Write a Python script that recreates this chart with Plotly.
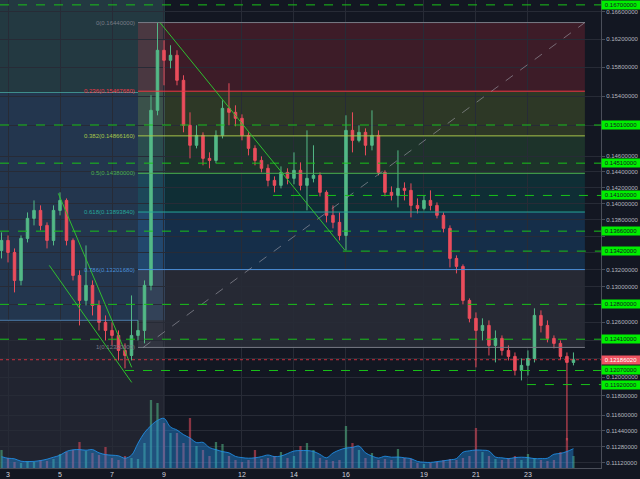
import math
from datetime import datetime, timedelta
import pandas as pd
import plotly.graph_objects as go

# ---------------- data ----------------
START = "2018-04-02 18:00"   # first 6h candle
opens = [0.13428,0.13548,0.13404,0.13075,0.13572,0.13816,0.13914,0.13730,0.13548,0.13914,
         0.14038,0.13548,0.13133,0.12845,0.13018,0.12788,0.12597,0.12507,0.12452,0.12287,
         0.12232,0.12452,0.12507,0.13018,0.15207,0.16040,0.15898,0.15969,0.15618,0.15006,
         0.14742,0.14873,0.14572,0.14546,0.14873,0.15234,0.15180,0.15100,0.14873,0.14702,
         0.14546,0.14444,0.14290,0.14227,0.14392,0.14316,0.14418,0.14227,0.14316,0.14354,
         0.14139,0.13853,0.13767,0.13608,0.14939,0.14807,0.14913,0.14742,0.14873,0.14392,
         0.14139,0.14101,0.14189,0.14164,0.13976,0.13939,0.14038,0.13976,0.13853,0.13694,
         0.13333,0.13239,0.12845,0.12642,0.12507,0.12563,0.12342,0.12419,0.12287,0.12222,
         0.12071,0.12125,0.12200,0.12675,0.12563,0.12419,0.12364,0.12222,0.12157]
highs = [0.13645,0.13608,0.13452,0.13608,0.13889,0.14038,0.13976,0.13767,0.13976,0.14139,
         0.14063,0.13572,0.13192,0.13488,0.13075,0.12845,0.12675,0.12597,0.12507,0.12364,
         0.12902,0.12619,0.13075,0.15412,0.16444,0.16183,0.16112,0.16040,0.15688,0.15180,
         0.15006,0.14913,0.14650,0.14939,0.15343,0.15577,0.15275,0.15153,0.14913,0.14742,
         0.14598,0.14495,0.14341,0.14469,0.14444,0.14650,0.14520,0.14939,0.14742,0.14392,
         0.14164,0.13976,0.13889,0.15140,0.15180,0.15006,0.14966,0.15207,0.14939,0.14418,
         0.14214,0.14676,0.14265,0.14252,0.14063,0.14101,0.14164,0.14013,0.13889,0.13730,
         0.13369,0.13263,0.12868,0.12709,0.12642,0.12619,0.12507,0.12452,0.12342,0.12265,
         0.12200,0.12287,0.12755,0.12732,0.12619,0.12452,0.12397,0.12265,0.12265]
lows = [0.13333,0.13286,0.12937,0.13018,0.13524,0.13730,0.13669,0.13452,0.13488,0.13853,
        0.13488,0.13075,0.12563,0.12788,0.12675,0.12507,0.12397,0.12342,0.12178,0.12093,
        0.12178,0.12397,0.12364,0.12960,0.15140,0.15549,0.15785,0.15549,0.14913,0.14572,
        0.14702,0.14482,0.14444,0.14508,0.14833,0.15006,0.14993,0.14807,0.14611,0.14482,
        0.14392,0.14214,0.14139,0.14189,0.14240,0.14240,0.14164,0.13914,0.14265,0.14088,
        0.13767,0.13694,0.13548,0.13428,0.14650,0.14781,0.14611,0.14676,0.14354,0.14088,
        0.14038,0.13951,0.14038,0.13828,0.13877,0.13914,0.13914,0.13816,0.13645,0.13227,
        0.13157,0.12800,0.12597,0.12104,0.12397,0.12232,0.12157,0.12232,0.12178,0.12017,
        0.11964,0.12017,0.12157,0.12485,0.12375,0.12309,0.12189,0.11343,0.12125]
closes = [0.13548,0.13404,0.13075,0.13572,0.13816,0.13914,0.13730,0.13548,0.13914,0.14038,
          0.13548,0.13133,0.12845,0.13018,0.12788,0.12597,0.12507,0.12452,0.12287,0.12232,
          0.12452,0.12507,0.13018,0.15207,0.16040,0.15898,0.15969,0.15618,0.15006,0.14742,
          0.14873,0.14572,0.14546,0.14873,0.15234,0.15180,0.15100,0.14873,0.14702,0.14546,
          0.14444,0.14290,0.14227,0.14392,0.14316,0.14418,0.14227,0.14316,0.14354,0.14139,
          0.13853,0.13767,0.13608,0.14939,0.14807,0.14913,0.14742,0.14873,0.14392,0.14139,
          0.14101,0.14189,0.14164,0.13976,0.13939,0.14038,0.13976,0.13853,0.13694,0.13333,
          0.13239,0.12845,0.12642,0.12507,0.12563,0.12342,0.12419,0.12287,0.12222,0.12071,
          0.12125,0.12200,0.12675,0.12563,0.12419,0.12364,0.12222,0.12157,0.12186]
volumes = [180,100,60,50,70,60,80,70,90,140,
           160,180,260,170,150,130,210,100,80,120,
           100,90,250,680,650,450,350,350,250,500,
           220,180,120,260,240,120,80,60,80,180,
           90,100,120,160,100,120,220,250,180,100,
           80,70,80,420,250,180,100,150,80,90,
           80,190,100,90,50,40,50,60,80,90,
           80,100,120,400,160,120,90,80,100,120,
           80,140,100,80,70,80,160,300,120]

x_tick_days = [3, 5, 7, 9, 12, 14, 16, 19, 21, 23]
price_ticks = [0.166, 0.162, 0.158, 0.154, 0.150, 0.146, 0.144, 0.142, 0.140, 0.138,
               0.136, 0.134, 0.132, 0.130, 0.128, 0.126, 0.124, 0.122, 0.120, 0.118,
               0.116, 0.1144, 0.1128, 0.1112]
# tick labels fully covered by the level badges on the price scale
covered_ticks = [0.150, 0.136, 0.134, 0.128, 0.124, 0.122]

level_prices = [0.167, 0.1501, 0.1451, 0.141, 0.1366, 0.1342, 0.128, 0.1241, 0.1207, 0.1192]
last_price = 0.12186020

fib_high = 0.1644
fib_low = 0.1232
fib_ratios = [0, 0.236, 0.382, 0.5, 0.618, 0.786, 1]

# ---------------- helpers / styling ----------------
BASE = datetime(2018, 4, 1)
def day(d):
    return BASE + timedelta(days=d - 1)

times = pd.date_range(START, periods=len(closes), freq="6h")

BG = "#131722"
GRID = "#272b36"
AXC = "#4a4e59"
TXT = "#b2b5be"
FONT = "Liberation Sans, Arial, sans-serif"
UP = "#53b987"
DOWN = "#eb4d5c"
LVL = "#19c219"

fib_colors = ["#787b86", "#f23645", "#a8c64a", "#4caf50", "#26a69a", "#4a90d9", "#787b86"]
fib_zone_rgb = [None, (242, 54, 69), (160, 200, 60), (76, 175, 80), (0, 150, 136),
                (33, 150, 243), (120, 123, 134)]
fib_prices = [fib_high - r * (fib_high - fib_low) for r in fib_ratios]

X0, X1 = 2.692, 25.81
FIB_X0, FIB_X1 = 8.0, 25.19
LEFT_X1 = 9.04
Y_TOP = 10 ** -0.7754
Y_BOT = 10 ** -0.9559

# level line start days (None = full width)
level_start = [None, None, None, 13.19, None, 15.88, None, None, 7.5, 22.96]

shapes = []
def rect(xa, xb, ya, yb, color):
    shapes.append(dict(type="rect", xref="x", yref="y", x0=day(xa), x1=day(xb),
                       y0=ya, y1=yb, fillcolor=color, line=dict(width=0), layer="below"))
def line(xa, ya, xb, yb, color, width=1, dash="solid"):
    shapes.append(dict(type="line", xref="x", yref="y", x0=day(xa), x1=day(xb),
                       y0=ya, y1=yb, line=dict(color=color, width=width, dash=dash)))

# left coloured regions + grey date-range overlay
rect(X0, LEFT_X1, 0.1545, Y_TOP, "rgba(38,166,154,0.17)")
rect(X0, LEFT_X1, 0.1262, 0.1545, "rgba(33,150,243,0.17)")
rect(X0, LEFT_X1, Y_BOT, Y_TOP, "rgba(120,123,134,0.14)")
line(X0, 0.1545, FIB_X0, 0.1545, "rgba(77,182,172,0.7)")
line(X0, 0.1262, FIB_X0, 0.1262, "rgba(91,155,213,0.7)")

# fib zones
for k in range(1, len(fib_prices)):
    r, g, b = fib_zone_rgb[k]
    rect(FIB_X0, FIB_X1, fib_prices[k], fib_prices[k - 1], f"rgba({r},{g},{b},0.19)")
for k, p in enumerate(fib_prices):
    line(FIB_X0, p, FIB_X1, p, fib_colors[k], 1)
# fib trend (dashed diagonal)
line(8.2, fib_low, FIB_X1, fib_high, "rgba(160,160,170,0.6)", 1, "dash")

# green support/resistance levels
for p, s in zip(level_prices, level_start):
    line(s if s is not None else X0, p, X1, p, LVL, 1, "dash")

# trend lines
line(8.846, fib_high, 15.96, 0.1343, "#2fbf2f", 1)
line(4.935, 0.14126, 7.758, 0.12104, "#2fbf2f", 1)
line(4.588, 0.13251, 7.758, 0.11943, "#2fbf2f", 1)

# current price line
line(X0, last_price, X1, last_price, "rgba(242,54,69,0.8)", 1, "dot")

# ---------------- annotations ----------------
annotations = []
for k, (r, p) in enumerate(zip(fib_ratios, fib_prices)):
    rs = f"{r:g}"
    annotations.append(dict(xref="x", yref="y", x=day(FIB_X0), y=math.log10(p),
                            text=f"{rs}({p:.8f})", showarrow=False, xanchor="right",
                            yanchor="middle", xshift=-1,
                            font=dict(family=FONT, size=6, color=fib_colors[k])))
for p in level_prices:
    annotations.append(dict(xref="paper", yref="y", x=1, y=math.log10(p),
                            text=f"{p:.8f}", showarrow=False, xanchor="left",
                            yanchor="middle", width=38, height=8, bgcolor="#00ee00",
                            borderpad=0, font=dict(family=FONT, size=6, color="#131722")))
annotations.append(dict(xref="paper", yref="y", x=1, y=math.log10(last_price),
                        text=f"{last_price:.8f}", showarrow=False, xanchor="left",
                        yanchor="middle", width=38, height=8, bgcolor="#ef5361",
                        borderpad=0, font=dict(family=FONT, size=6, color="#ffffff")))

# ---------------- traces ----------------
vol_colors = ["rgba(83,185,135,0.55)" if c >= o else "rgba(235,77,92,0.55)"
              for o, c in zip(opens, closes)]
vol_ma = pd.Series(volumes).rolling(5, center=True, min_periods=1).mean()

fig = go.Figure()
fig.add_trace(go.Candlestick(
    x=times, open=opens, high=highs, low=lows, close=closes,
    increasing=dict(line=dict(color=UP, width=1), fillcolor=UP),
    decreasing=dict(line=dict(color=DOWN, width=1), fillcolor=DOWN),
    whiskerwidth=0, showlegend=False, hoverinfo="skip", yaxis="y"))
fig.add_trace(go.Bar(x=times, y=volumes, marker=dict(color=vol_colors, line=dict(width=0)),
                     width=6 * 3600 * 1000 * 0.35, yaxis="y2", showlegend=False,
                     hoverinfo="skip"))
fig.add_trace(go.Scatter(x=times, y=vol_ma, mode="lines", line=dict(color="rgba(33,150,243,0.8)",
                         width=1, shape="spline"), fill="tozeroy",
                         fillcolor="rgba(33,150,243,0.40)", yaxis="y2", showlegend=False,
                         hoverinfo="skip"))

tick_text = ["" if any(abs(v - c) < 1e-9 for c in covered_ticks) else f"{v:.8f}"
             for v in price_ticks]

fig.update_layout(
    width=640, height=479,
    margin=dict(l=0, r=39, t=0, b=11),
    paper_bgcolor=BG, plot_bgcolor=BG,
    font=dict(family=FONT, color=TXT),
    shapes=shapes, annotations=annotations,
    boxgap=0.45,
    xaxis=dict(type="date", range=[day(X0), day(X1)], rangeslider=dict(visible=False),
               tickvals=[day(d) for d in x_tick_days], ticktext=[str(d) for d in x_tick_days],
               tickfont=dict(family=FONT, size=7, color="#d1d4dc"),
               showgrid=True, gridcolor=GRID, gridwidth=1,
               showline=True, linecolor=AXC, ticks="", zeroline=False),
    yaxis=dict(type="log", range=[math.log10(Y_BOT), math.log10(Y_TOP)], side="right",
               tickvals=price_ticks, ticktext=tick_text,
               tickfont=dict(family=FONT, size=6, color=TXT),
               ticks="outside", ticklen=3, tickcolor=AXC,
               showgrid=True, gridcolor=GRID, gridwidth=1,
               showline=True, linecolor=AXC, zeroline=False),
    yaxis2=dict(overlaying="y", range=[0, 4680], visible=False, showgrid=False),
)

fig.write_html("out.html", config={"displayModeBar": False},
               post_script="document.body.style.margin='0';document.body.style.overflow='hidden';")
